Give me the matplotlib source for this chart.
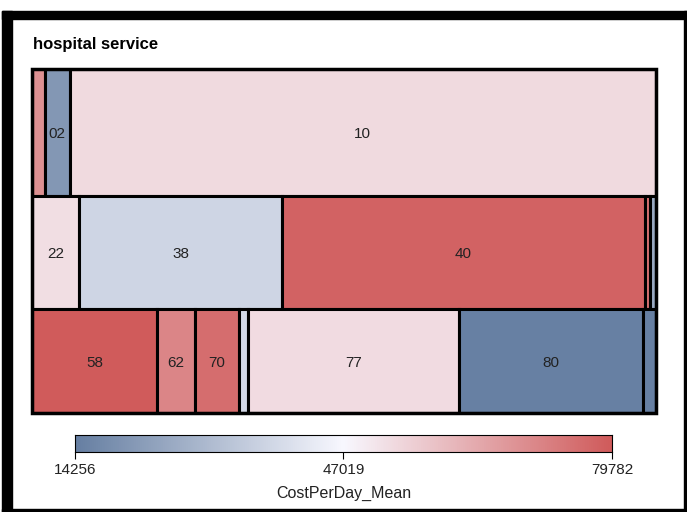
import matplotlib
matplotlib.use("Agg")
import matplotlib.pyplot as plt
from matplotlib.colors import LinearSegmentedColormap, Normalize
from matplotlib.patches import Rectangle
import numpy as np

plt.rcParams['font.family'] = ['Liberation Sans', 'DejaVu Sans']

# ---- data ----
row1_labels = ["01", "02", "10"]
row1_sizes = [7.7, 14.6, 348.7]
row1_cost = [68700, 20800, 53300]

row2_labels = ["22", "38", "40", "41", "50"]
row2_sizes = [24.7, 106.5, 190.5, 2.9, 2.9]
row2_cost = [52500, 37800, 78000, 75000, 26000]

row3_labels = ["58", "62", "70", "75", "77", "80", "90"]
row3_sizes = [60.4, 18.1, 21.3, 4.6, 101.9, 88.6, 6.5]
row3_cost = [79782, 71000, 75800, 38500, 53000, 14700, 14256]

cbar_ticks = [14256, 47019, 79782]
title = "hospital service"
cbar_label = "CostPerDay_Mean"

rows = [(row1_labels, row1_sizes, row1_cost),
        (row2_labels, row2_sizes, row2_cost),
        (row3_labels, row3_sizes, row3_cost)]

cmap = LinearSegmentedColormap.from_list("sas3", ["#667FA2", "#F8F8FF", "#D05B5B"])
vmin, vmax = 14256, 79782
norm = Normalize(vmin=vmin, vmax=vmax)

W, H = 687, 512
fig = plt.figure(figsize=(W / 100, H / 100), dpi=100)

# outer frame (screenshot-like border)
def frect(x0, y0, x1, y1, color):
    fig.patches.append(Rectangle((x0 / W, 1 - y1 / H), (x1 - x0) / W, (y1 - y0) / H,
                                 transform=fig.transFigure, color=color, zorder=0))
frect(2, 11, 687, 19, "black")      # top
frect(2, 11, 12, 512, "black")      # left
frect(684, 11, 687, 512, "black")   # right
frect(2, 509, 687, 512, "black")    # bottom

fig.text(33 / W, 1 - 44 / H, title, fontsize=12, fontweight='bold',
         ha='left', va='center', color='black')

# treemap
ax = fig.add_axes([32 / W, 1 - 413 / H, 624 / W, 344.5 / H])
total = sum(sum(r[1]) for r in rows)
y_top = 1.0
for labels, sizes, cost in rows:
    rsum = sum(sizes)
    h = rsum / total
    x = 0.0
    for lab, s, c in zip(labels, sizes, cost):
        w = s / rsum
        ax.add_patch(Rectangle((x, y_top - h), w, h, facecolor=cmap(norm(c)),
                               edgecolor='black', linewidth=2.2))
        if w * 624 > 20:
            ax.text(x + w / 2, y_top - h / 2, lab, ha='center', va='center_baseline',
                    fontsize=11, color='#222222')
        x += w
    y_top -= h
ax.set_xlim(0, 1)
ax.set_ylim(0, 1)
ax.axis('off')
ax.add_patch(Rectangle((0, 0), 1, 1, fill=False, edgecolor='black', linewidth=2.5,
                       clip_on=False))

# colorbar
cax = fig.add_axes([75 / W, 1 - 452 / H, 537 / W, 17 / H])
grad = np.linspace(vmin, vmax, 512).reshape(1, -1)
cax.imshow(grad, aspect='auto', cmap=cmap, norm=norm,
           extent=[vmin, vmax, 0, 1])
cax.set_xlim(vmin, vmax)
cax.set_yticks([])
cax.set_xticks(cbar_ticks)
cax.set_xticklabels([str(t) for t in cbar_ticks], fontsize=11, color='#222222')
cax.tick_params(axis='x', length=5, width=0.8, pad=3)
for sp in cax.spines.values():
    sp.set_linewidth(0.8)
cax.set_xlabel(cbar_label, fontsize=11.5, color='#222222', labelpad=6)

fig.savefig("out.png", dpi=100)
